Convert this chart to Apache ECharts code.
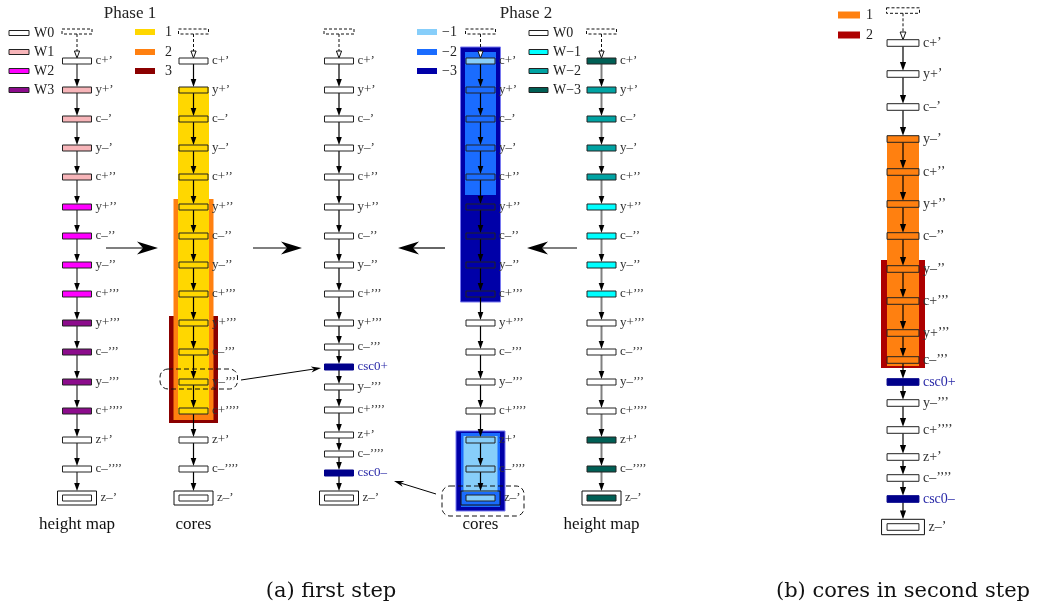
<!DOCTYPE html>
<html><head><meta charset="utf-8">
<script src="https://cdn.jsdelivr.net/npm/echarts@6/dist/echarts.min.js"></script>
<style>html,body{margin:0;padding:0;background:#fff}#c{width:1038px;height:610px}</style>
</head><body><div id="c"></div>
<script>
// ================= DATA =================
const rowLabels = ["c+’","y+’","c–’","y–’","c+’’","y+’’","c–’’","y–’’","c+’’’","y+’’’","c–’’’","y–’’’","c+’’’’","z+’","c–’’’’","z–’"];
const cscLabels = ["c+’","y+’","c–’","y–’","c+’’","y+’’","c–’’","y–’’","c+’’’","y+’’’","c–’’’","csc0+","y–’’’","c+’’’’","z+’","c–’’’’","csc0–","z–’"];
const rowYMain   = [61,90,119,148,177,207,236,265,294,323,352,382,411,440,469,498];
const rowYCsc    = [61,90,119,148,177,207,236,265,294,323,347,367,387,410,435,454,473,498];
const rowYSecond = [43,74,107,139,172,204,236,269,301,333,360,382,403,430,457,478,499,527];
const heightMap1 = [0,1,1,1,1,2,2,2,2,3,3,3,3,0,0,0];
const cores1     = [0,1,1,1,1,2,2,2,2,3,3,3,3,0,0,0];
const heightMap2 = [-3,-2,-2,-2,-2,-1,-1,-1,-1,0,0,0,0,-3,-3,-3];
const cores2     = [-1,-2,-2,-2,-2,-3,-3,-3,-3,0,0,0,0,-1,-1,-1];
const coresSecond= [0,0,0,1,1,1,1,2,2,2,2,0,0,0,0,0,0,0];
const legendW1 = ["W0","W1","W2","W3"];
const legendW1Val = [0,1,2,3];
const legendC1 = ["1","2","3"];
const legendC1Val = [1,2,3];
const legendC2 = ["−1","−2","−3"];
const legendC2Val = [-1,-2,-3];
const legendW2 = ["W0","W−1","W−2","W−3"];
const legendW2Val = [0,-1,-2,-3];
const legendC3 = ["1","2"];
const legendC3Val = [1,2];
const titles = ["Phase 1","Phase 2"];
const colNames = ["height map","cores","cores","height map"];
const captions = ["(a) first step","(b) cores in second step"];

// ================= STYLE / LAYOUT =================
const W_COL  = {0:'#ffffff',1:'#f7b5b9',2:'#ff00ff',3:'#8c0c8c'};
const WN_COL = {0:'#ffffff','-1':'#00ffff','-2':'#00a3a3','-3':'#005f55'};
const C1_COL = {1:'#ffd700',2:'#ff8010',3:'#8b0000'};
const C2_COL = {'-1':'#87cefa','-2':'#1a6cff','-3':'#0000a8'};
const C3_COL = {1:'#ff8010',2:'#ad0000'};
const CSC_COL = '#00008b', CSC_TXT = '#2a2aa8';
const SERIF = "'Liberation Serif','Times New Roman',serif";
const X = {h1:77, c1:193.5, csc:339, c2:480.5, h2:601.5, sec:903};
const PAD1 = {1:{hw:15.5,t:3,b:3}, 2:{hw:20,t:8,b:9}, 3:{hw:24.5,t:7,b:12}};
const PAD2 = {'-3':[{hw:20,t:14,b:8},{hw:24.5,t:9,b:13}], '-2':[{hw:15.5,t:9,b:18},{hw:19.5,t:7,b:9}], '-1':[{hw:14.5,t:3,b:3},{hw:17,t:4,b:-6}]};
const PAD3 = {1:{hw:16,t:3,b:6}, 2:{hw:22,t:9,b:8}};

// ================= BUILD SHAPES =================
const LAYERS = {bg:[], lines:[], arrows:[], nodes:[], over:[], text:[]};
function add(layer,type,v,meta){ LAYERS[layer].push({v, meta:Object.assign({type}, meta)}); }
const rect = (layer,x0,y0,x1,y1,m)=>add(layer,'rect',[x0,y0,x1,y1],m);
const line = (layer,x0,y0,x1,y1,m)=>add(layer,'line',[x0,y0,x1,y1],m);
const arrow = (x,y,bx,by,m)=>add('arrows','arrow',[x,y,bx,by],m);
const text = (x,y,t,m)=>add('text','text',[x,y,x,y],Object.assign({text:t},m));

function runs(vals,pred){ const out=[]; let s=-1; vals.forEach((v,i)=>{ if(pred(v)){ if(s<0) s=i; } else if(s>=0){ out.push([s,i-1]); s=-1; } }); if(s>=0) out.push([s,vals.length-1]); return out; }

function column(cx, ys, texts, fillFn, opt){
  const s = opt.scale || 1, hw = 14.5*s, hh = 3*s, n = ys.length;
  const font = (opt.fontSize||13)+'px '+SERIF;
  const dTop = ys[0]-32*s, dBot = ys[0]-27*s;
  rect('nodes', cx-15*s, dTop, cx+15*s, dBot, {fill:'none', stroke:'#111', lw:1, dash:[3,2]});
  line('lines', cx, dBot, cx, ys[0]-hh-7*s, {stroke:'#111', lw:1, dash:[3,2]});
  arrow(cx, ys[0]-hh, cx, ys[0]-hh-7*s, {len:7*s, hw:2.6*s, fill:'#fff', stroke:'#111', lw:1});
  for(let i=0;i<n;i++){
    const y = ys[i], last = i===n-1;
    if(i<n-1){
      const nextTop = (i+1===n-1) ? ys[i+1]-7*s : ys[i+1]-hh;
      line('lines', cx, y+hh, cx, nextTop-7*s, {stroke:opt.edge, lw:opt.edgeW});
      arrow(cx, nextTop, cx, nextTop-8, {len:8*s, hw:2.8*s, fill:'#000'});
    }
    if(last) rect('nodes', cx-19.5*s, y-7*s, cx+19.5*s, y+7*s, {fill:'none', stroke:'#111', lw:1});
    const f = fillFn(i);
    rect('nodes', cx-hw, y-hh, cx+hw, y+hh, {fill:f.fill, stroke:f.stroke||'#222', lw:1});
    text(cx+(last?19.5*s:hw)+4, y, texts[i], {font, fill:f.txt||'#333'});
  }
}

// core highlight rectangles
[3,2,1].forEach(k=>runs(cores1,v=>v>=k).forEach(([a,b])=>{const p=PAD1[k];
  rect('bg', X.c1-p.hw, rowYMain[a]-p.t, X.c1+p.hw, rowYMain[b]+p.b, {fill:C1_COL[k]});}));
[-3,-2,-1].forEach(k=>runs(cores2,v=>v<0&&v>=k).forEach(([a,b],g)=>{const p=PAD2[k][g];
  rect('bg', X.c2-p.hw, rowYMain[a]-p.t, X.c2+p.hw, rowYMain[b]+p.b, {fill:C2_COL[k], stroke:k===-3?'#7878f0':null, lw:k===-3?1:0});}));
[2,1].forEach(k=>runs(coresSecond,v=>v>=k).forEach(([a,b])=>{const p=PAD3[k];
  rect('bg', X.sec-p.hw, rowYSecond[a]-p.t, X.sec+p.hw, rowYSecond[b]+p.b, {fill:C3_COL[k]});}));

const isCsc = t=>t.startsWith('csc');
column(X.h1, rowYMain, rowLabels, i=>({fill:W_COL[heightMap1[i]]}), {edge:'#808080', edgeW:2});
column(X.c1, rowYMain, rowLabels, i=>({fill:cores1[i]>=1?C1_COL[1]:'#fff'}), {edge:'#000', edgeW:1.2});
column(X.csc, rowYCsc, cscLabels, i=>isCsc(cscLabels[i])?{fill:CSC_COL,stroke:CSC_COL,txt:CSC_TXT}:{fill:'#fff'}, {edge:'#000', edgeW:1.2});
column(X.c2, rowYMain, rowLabels, i=>({fill:cores2[i]<0?C2_COL[cores2[i]]:'#fff'}), {edge:'#000', edgeW:1.2});
column(X.h2, rowYMain, rowLabels, i=>({fill:WN_COL[heightMap2[i]]}), {edge:'#808080', edgeW:2});
column(X.sec, rowYSecond, cscLabels, i=>isCsc(cscLabels[i])?{fill:CSC_COL,stroke:CSC_COL,txt:CSC_TXT}:{fill:coresSecond[i]>=1?C3_COL[1]:'#fff'}, {edge:'#000', edgeW:1.2, scale:1.1, fontSize:14});

// dashed annotation boxes and pointer arrows
rect('over', X.c1-33.5, rowYMain[11]-13, X.c1+44, rowYMain[11]+7, {fill:'none', stroke:'#111', lw:1, dash:[5,3], r:8});
rect('over', X.c2-38.5, rowYMain[15]-12, X.c2+43.5, rowYMain[15]+18, {fill:'none', stroke:'#111', lw:1, dash:[5,3], r:8});
function pointer(x0,y0,x1,y1,len,hw,notch,lw){
  const L=Math.hypot(x1-x0,y1-y0), ux=(x1-x0)/L, uy=(y1-y0)/L;
  line('over', x0,y0, x1-ux*(len-notch), y1-uy*(len-notch), {stroke:'#000', lw});
  arrow(x1,y1, x1-ux*len, y1-uy*len, {len, hw, notch, fill:'#000'});
}
pointer(X.c1+47.5, rowYMain[11]-2, X.csc-18, rowYCsc[11]+1, 10, 3, 3, 1);
pointer(X.c2-44.5, rowYMain[15]-4, X.csc+55, rowYCsc[16]+8, 10, 3, 3, 1);
const BIG_Y = 248;
[[106,158],[253,302],[445,398],[577,527]].forEach(([a,b])=>pointer(a,BIG_Y,b,BIG_Y,21,6.5,6,1.2));

// legends
function legend(x0,x1,ys,names,vals,cols,outline,h,labX,fs){
  names.forEach((t,i)=>{
    rect('nodes', x0, ys[i]-h/2, x1, ys[i]+h/2, {fill:cols[vals[i]], stroke:outline?'#222':null, lw:outline?1:0});
    text(labX, ys[i], t, {font:fs+'px '+SERIF, fill:'#222'});
  });
}
const LEG_Y = [33,52,71,90];
legend(9,29,LEG_Y,legendW1,legendW1Val,W_COL,true,5,34,14);
legend(135,155,[32,52,71],legendC1,legendC1Val,C1_COL,false,6,165,14);
legend(417,437,[32,52,71],legendC2,legendC2Val,C2_COL,false,6,442,14);
legend(529,548,LEG_Y,legendW2,legendW2Val,WN_COL,true,5,553,14);
legend(838,860,[15,35],legendC3,legendC3Val,C3_COL,false,7,866,14);

// titles & captions
text(130,14,titles[0],{font:'17px '+SERIF, fill:'#222', align:'center'});
text(526,14,titles[1],{font:'17px '+SERIF, fill:'#222', align:'center'});
[X.h1,X.c1,X.c2,X.h2].forEach((x,i)=>text(x,525,colNames[i],{font:'17px '+SERIF, fill:'#111', align:'center'}));
text(331,592,captions[0],{font:"21px 'DejaVu Serif',serif", fill:'#111', align:'center'});
text(903,592,captions[1],{font:"21px 'DejaVu Serif',serif", fill:'#111', align:'center'});

// ================= RENDER =================
function makeRender(list){ return function(params, api){
  const m = list[params.dataIndex].meta;
  const p0 = api.coord([api.value(0), api.value(1)]);
  const p1 = api.coord([api.value(2), api.value(3)]);
  if(m.type==='rect') return {type:'rect', shape:{x:Math.min(p0[0],p1[0]), y:Math.min(p0[1],p1[1]), width:Math.abs(p1[0]-p0[0]), height:Math.abs(p1[1]-p0[1]), r:m.r||0},
    style:{fill:m.fill||'none', stroke:m.stroke||'none', lineWidth:m.lw||0, lineDash:m.dash||null}};
  if(m.type==='line') return {type:'line', shape:{x1:p0[0],y1:p0[1],x2:p1[0],y2:p1[1]}, style:{stroke:m.stroke, lineWidth:m.lw, lineDash:m.dash||null}};
  if(m.type==='arrow'){
    const dx=p0[0]-p1[0], dy=p0[1]-p1[1], L=Math.hypot(dx,dy)||1, ux=dx/L, uy=dy/L, px=-uy, py=ux;
    const bx=p0[0]-ux*m.len, by=p0[1]-uy*m.len;
    const pts=[[p0[0],p0[1]],[bx+px*m.hw,by+py*m.hw]];
    if(m.notch) pts.push([p0[0]-ux*(m.len-m.notch), p0[1]-uy*(m.len-m.notch)]);
    pts.push([bx-px*m.hw,by-py*m.hw]);
    return {type:'polygon', shape:{points:pts}, style:{fill:m.fill, stroke:m.stroke||'none', lineWidth:m.lw||0}};
  }
  return {type:'text', x:p0[0], y:p0[1], style:{text:m.text, font:m.font, fill:m.fill||'#333', align:m.align||'left', verticalAlign:'middle', textAlign:m.align||'left', textVerticalAlign:'middle'}};
};}

const chart = echarts.init(document.getElementById('c'));
chart.setOption({
  animation:false,
  grid:{left:0,right:0,top:0,bottom:0},
  xAxis:{type:'value',min:0,max:1038,show:false},
  yAxis:{type:'value',min:0,max:610,inverse:true,show:false},
  series:Object.keys(LAYERS).map((k,i)=>({
    type:'custom', name:k, coordinateSystem:'cartesian2d', silent:true, clip:false, z:2+i,
    data:LAYERS[k].map(o=>o.v), renderItem:makeRender(LAYERS[k])
  }))
});
</script></body></html>
